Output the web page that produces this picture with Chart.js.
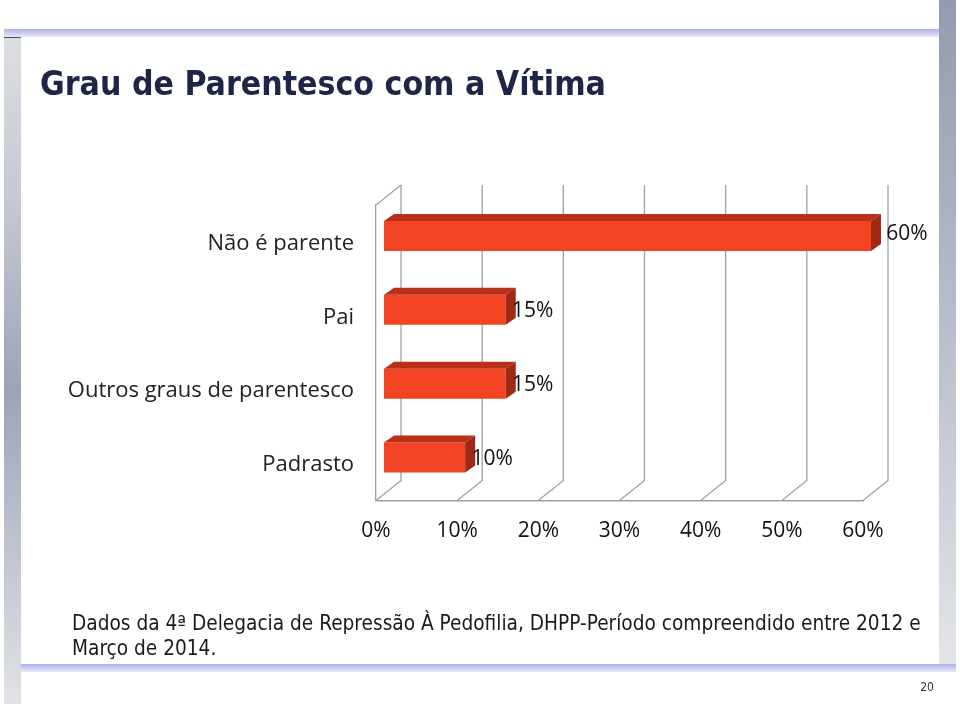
<!DOCTYPE html>
<html lang="pt">
<head>
<meta charset="utf-8">
<style>
html,body{margin:0;padding:0;background:#fff;width:960px;height:706px;overflow:hidden}
.d{position:absolute}
canvas{position:absolute;left:0;top:0}
</style>
<script src="https://cdn.jsdelivr.net/npm/chart.js@4"></script>
</head>
<body>
<div class="d" style="left:4px;top:37px;width:17px;height:667px;background:linear-gradient(180deg,#dcdee2 0%,#c4c8d2 25%,#9ba4b6 53%,#bcc2ce 75%,#e0e2e6 100%)"></div>
<div class="d" style="left:939px;top:0;width:17px;height:664px;background:linear-gradient(180deg,#929cb0 0%,#b4bbc9 45%,#e2e4e8 100%)"></div>
<div class="d" style="left:4px;top:29px;width:935px;height:8px;background:linear-gradient(180deg,#aeb2e8,#e8e9f8)"></div>
<div class="d" style="left:21px;top:664px;width:935px;height:8px;background:linear-gradient(180deg,#aeb2e8,#e8e9f8)"></div>
<div class="d" style="left:4px;top:37px;width:17px;height:1px;background:#4a4d58"></div>
<canvas id="c" width="960" height="706"></canvas>
<script>
const titleText = 'Grau de Parentesco com a Vítima';
const categories = ['Não é parente', 'Pai', 'Outros graus de parentesco', 'Padrasto'];
const values = [60, 15, 15, 10];
const tickValues = [0, 10, 20, 30, 40, 50, 60];
const noteLines = ['Dados da 4ª Delegacia de Repressão À Pedofilia, DHPP-Período compreendido entre 2012 e', 'Março de 2014.'];
const pageNumber = '20';

const depthX = 25, depthY = 20;
const barShiftX = 8, barShiftY = 6, barDepthX = 10, barDepthY = 7;
const labelFont = '21px "Open Sans"';

const scene = {
  id: 'scene',
  beforeDatasetsDraw(chart) {
    const {ctx, scales: {x}, chartArea: a} = chart;
    ctx.save();
    ctx.strokeStyle = '#a0a0a0';
    ctx.lineWidth = 1.3;
    tickValues.forEach(v => {
      const p = x.getPixelForValue(v);
      ctx.beginPath();
      ctx.moveTo(p, a.bottom);
      ctx.lineTo(p + depthX, a.bottom - depthY);
      ctx.lineTo(p + depthX, a.top - depthY);
      ctx.stroke();
    });
    ctx.beginPath();
    ctx.moveTo(a.left, a.top);
    ctx.lineTo(a.left + depthX, a.top - depthY);
    ctx.stroke();
    ctx.restore();
  },
  beforeDatasetDraw(chart) {
    chart.ctx.save();
    chart.ctx.translate(barShiftX, -barShiftY);
  },
  afterDatasetDraw(chart, args) {
    const {ctx} = chart;
    args.meta.data.forEach(b => {
      const top = b.y - b.height / 2, bot = b.y + b.height / 2;
      ctx.fillStyle = '#b93019';
      ctx.beginPath();
      ctx.moveTo(b.base, top);
      ctx.lineTo(b.base + barDepthX, top - barDepthY);
      ctx.lineTo(b.x + barDepthX, top - barDepthY);
      ctx.lineTo(b.x, top);
      ctx.closePath();
      ctx.fill();
      ctx.fillStyle = '#9e2a16';
      ctx.beginPath();
      ctx.moveTo(b.x, top);
      ctx.lineTo(b.x + barDepthX, top - barDepthY);
      ctx.lineTo(b.x + barDepthX, bot - barDepthY);
      ctx.lineTo(b.x, bot);
      ctx.closePath();
      ctx.fill();
    });
    ctx.restore();
  },
  afterDatasetsDraw(chart) {
    const {ctx} = chart;
    const meta = chart.getDatasetMeta(0);
    ctx.save();
    ctx.font = labelFont;
    ctx.fillStyle = '#111';
    ctx.textAlign = 'center';
    ctx.textBaseline = 'middle';
    meta.data.forEach((b, i) => {
      const top = Math.max(...values) === values[i];
      const dx = barShiftX + (top ? 36 : 27);
      const dy = -barShiftY + 1 + (top ? -3 : 0);
      ctx.fillText(values[i] + '%', b.x + dx, b.y + dy);
    });
    ctx.fillStyle = '#1f2547';
    ctx.font = 'bold 33.5px "DejaVu Sans Condensed"';
    ctx.textAlign = 'left';
    ctx.fillText(titleText, 40, 86.5);
    ctx.fillStyle = '#1a1a1a';
    ctx.font = '20.65px "DejaVu Sans Condensed"';
    ctx.fillText(noteLines[0], 72, 625);
    ctx.fillText(noteLines[1], 72, 650);
    ctx.fillStyle = '#333';
    ctx.font = '12px "DejaVu Sans Condensed"';
    ctx.textAlign = 'center';
    ctx.fillText(pageNumber, 927, 688);
    ctx.restore();
  }
};

new Chart(document.getElementById('c'), {
  type: 'bar',
  data: {
    labels: categories,
    datasets: [{
      data: values,
      backgroundColor: '#f34323',
      borderWidth: 0,
      barPercentage: 0.405,
      categoryPercentage: 1,
      clip: false
    }]
  },
  options: {
    indexAxis: 'y',
    responsive: false,
    animation: false,
    layout: {padding: {left: 0, right: 97, top: 205, bottom: 0}},
    plugins: {legend: {display: false}, title: {display: false}, tooltip: {enabled: false}},
    scales: {
      x: {
        min: 0, max: 60,
        afterBuildTicks(s) { s.ticks = tickValues.map(v => ({value: v})); },
        afterFit(s) { s.height = 205.5; },
        grid: {display: false, drawTicks: false},
        border: {display: true, color: '#a0a0a0', width: 1.5},
        ticks: {
          padding: 18, maxRotation: 0, autoSkip: false,
          color: '#111', font: {family: 'Open Sans', size: 21},
          callback: v => v + '%'
        }
      },
      y: {
        afterFit(s) { s.width = 376; },
        grid: {display: false, drawTicks: false},
        border: {display: true, color: '#a0a0a0', width: 1.3},
        ticks: {
          padding: 22, autoSkip: false, labelOffset: 1.5,
          color: '#222', font: {family: 'Open Sans', size: 22}
        }
      }
    }
  },
  plugins: [scene]
});
</script>
</body>
</html>
